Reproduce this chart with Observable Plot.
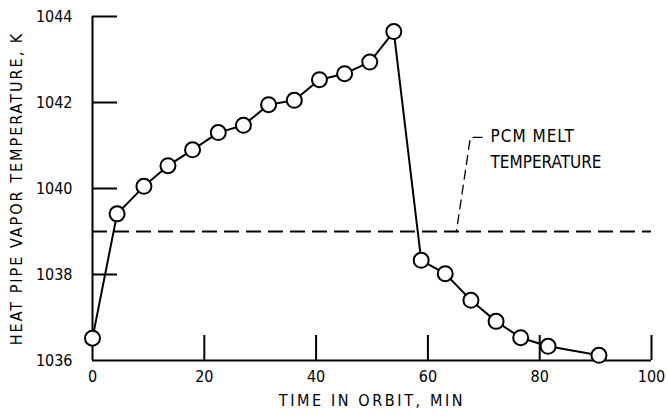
<!DOCTYPE html>
<html>
<head>
<meta charset="utf-8">
<script src="https://cdn.jsdelivr.net/npm/d3@7"></script>
<script src="https://cdn.jsdelivr.net/npm/@observablehq/plot@0.6"></script>
<style>
  html, body { margin: 0; padding: 0; background: #fff; }
  #chart { width: 668px; height: 418px; }
</style>
</head>
<body>
<div id="chart"></div>
<script>
// Data
const timeMin = [0, 4.4, 9.2, 13.5, 17.9, 22.5, 27.0, 31.5, 36.1, 40.6, 45.1, 49.6, 53.9, 58.8, 63.1, 67.7, 72.2, 76.6, 81.5, 90.6];
const tempK   = [1036.52, 1039.41, 1040.05, 1040.53, 1040.90, 1041.30, 1041.47, 1041.95, 1042.05, 1042.53, 1042.67, 1042.94, 1043.65, 1038.33, 1038.02, 1037.40, 1036.91, 1036.53, 1036.33, 1036.12];
const meltTemp = 1039;
const xTickLabels = [0, 20, 40, 60, 80, 100];
const xTickMarks = [20, 40, 60, 80, 100];
const yTickLabels = [1036, 1038, 1040, 1042, 1044];
const yTickMarks = [1038, 1040, 1042, 1044];
const leaderT = [69.7, 67.6, 65.1];
const leaderK = [1041.19, 1041.19, 1039];
const noteLines = ["PCM MELT", "TEMPERATURE"];
const noteT = [71.2, 71.2];
const noteK = [1041.2, 1040.6];
const xTitle = "TIME IN ORBIT, MIN";
const yTitle = "HEAT PIPE VAPOR TEMPERATURE, K";

const pts = timeMin.map((t, i) => ({t, k: tempK[i]}));
const leader = leaderT.map((t, i) => ({t, k: leaderK[i]}));
const notes = noteLines.map((s, i) => ({s, t: noteT[i], k: noteK[i]}));

const font = "'Liberation Sans Narrow', 'DejaVu Sans Condensed', sans-serif";

const chart = Plot.plot({
  width: 668,
  height: 418,
  marginLeft: 92,
  marginRight: 17,
  marginTop: 16,
  marginBottom: 58,
  style: { fontFamily: font, fontSize: "17px", color: "#000", background: "#fff" },
  x: { domain: [0, 100] },
  y: { domain: [1036, 1044] },
  marks: [
    // axis lines
    Plot.ruleY([1036], { stroke: "#000", strokeWidth: 2 }),
    Plot.ruleX([0], { stroke: "#000", strokeWidth: 2 }),
    // inward tick marks
    Plot.axisX(xTickMarks, { anchor: "bottom", tickSize: -25, strokeWidth: 2, tickFormat: () => "", label: null }),
    Plot.axisY(yTickMarks, { anchor: "left", tickSize: -25, strokeWidth: 2, tickFormat: () => "", label: null }),
    // tick labels
    Plot.axisX(xTickLabels, { anchor: "bottom", tickSize: 0, tickPadding: 10, fontSize: 16, tickFormat: "d", label: null }),
    Plot.axisY(yTickLabels, { anchor: "left", tickSize: 0, tickPadding: 20, fontSize: 16, tickFormat: "d", label: null }),
    // axis titles
    Plot.text([xTitle], { frameAnchor: "bottom", dy: 40, fontSize: 16, fill: "#000", lineAnchor: "middle", textAnchor: "middle" }),
    Plot.text([yTitle], { frameAnchor: "left", dx: -76, rotate: -90, fontSize: 16, fill: "#000", lineAnchor: "middle", textAnchor: "middle" }),
    // melt temperature dashed line
    Plot.ruleY([meltTemp], { x1: 0, x2: 100, stroke: "#000", strokeWidth: 2, strokeDasharray: "15,7" }),
    // leader
    Plot.line(leader, { x: "t", y: "k", stroke: "#000", strokeWidth: 1.3, strokeDasharray: "9,6" }),
    Plot.text(notes, { x: "t", y: "k", text: "s", textAnchor: "start", fontSize: 17, fill: "#000" }),
    // data
    Plot.line(pts, { x: "t", y: "k", stroke: "#000", strokeWidth: 2 }),
    Plot.dot(pts, { x: "t", y: "k", r: 7.5, fill: "#fff", stroke: "#000", strokeWidth: 2 })
  ]
});
// typewriter-like letter spacing for the axis titles
d3.select(chart).selectAll("text").each(function () {
  const t = this.textContent;
  if (t === xTitle) this.setAttribute("letter-spacing", "2.6");
  if (t === yTitle) this.setAttribute("letter-spacing", "2");
  if (t === noteLines[0]) this.setAttribute("letter-spacing", "1");
});
document.getElementById("chart").appendChild(chart);
</script>
</body>
</html>
